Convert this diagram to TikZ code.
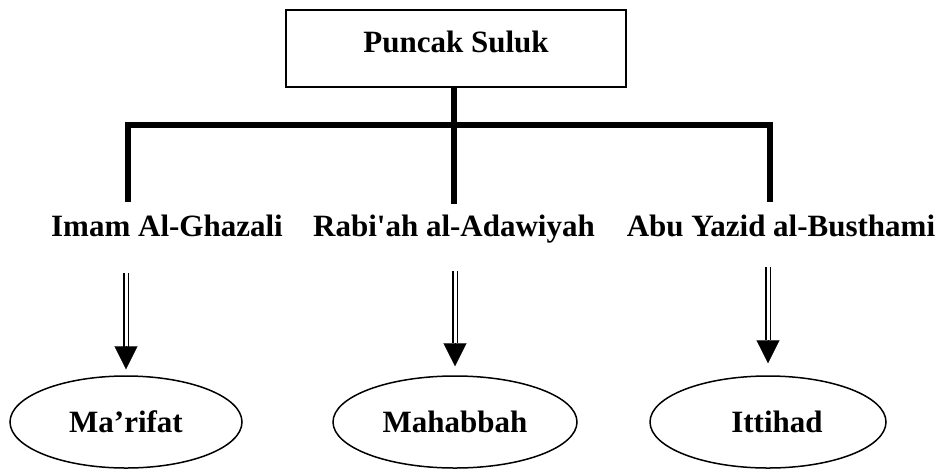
\documentclass[tikz,border=0pt]{standalone}
\usepackage{fontspec}
\setmainfont{Liberation Serif}[Ligatures=TeXOff]
\usetikzlibrary{shapes.geometric,arrows.meta}
\begin{document}
\begin{tikzpicture}[x=1pt,y=-1pt,
  txt/.style={font=\fontsize{31}{36}\selectfont\bfseries},
  lbl/.style={txt, inner sep=0pt, anchor=base},
  topbox/.style={draw, line width=1.6pt, minimum width=340pt, minimum height=77pt, inner sep=0pt},
  oval/.style={ellipse, draw, line width=1.5pt, inner sep=0pt, txt},
  heavy/.style={line width=6pt},
  shaft/.style={double, double distance=3pt, line width=1.6pt},
  head/.style={-{Triangle[length=23pt,width=23pt]}, line width=0.1pt}
]
\useasboundingbox (0,0) rectangle (941,469);
% top box
\node[topbox] (box) at (456,48.5) {};
\node[lbl] (boxtext) at (456,52) {Puncak Suluk};
% labels
\node[lbl] (l1) at (167,236) {Imam Al-Ghazali};
\node[lbl] (l2) at (454,236) {Rabi'ah al-Adawiyah};
\node[lbl] (l3) at (781,236) {Abu Yazid al-Busthami};
% ellipses
\node[oval, minimum width=232pt, minimum height=92pt] (e1) at (126,422) {Ma’rifat};
\node[oval, minimum width=244pt, minimum height=92pt] (e2) at (455,422) {Mahabbah};
\node[oval, minimum width=236pt, minimum height=92pt] (e3) at (768,422) {\hspace*{18pt}Ittihad};
% tree lines
\coordinate (bl) at (128,125);
\coordinate (br) at (770,125);
\coordinate (v1) at (128,202);
\coordinate (v2) at (454,204);
\coordinate (v3) at (770,202);
\draw[heavy] ([xshift=-3pt]bl) -- ([xshift=3pt]br);
\draw[heavy] (bl) -- (v1);
\draw[heavy] (br) -- (v3);
\draw[heavy] (454,0 |- box.south) -- (v2);
% arrows
\coordinate (t1) at (126,273); \coordinate (h1) at (126,347);
\coordinate (t2) at (455,271); \coordinate (h2) at (455,343);
\coordinate (t3) at (768,267); \coordinate (h3) at (768,340);
\draw[shaft] (t1) -- (h1);
\draw[shaft] (t2) -- (h2);
\draw[shaft] (t3) -- (h3);
\draw[head, shorten >=6pt] (h1) -- (e1.north);
\draw[head, shorten >=9pt] (h2) -- (e2.north);
\draw[head, shorten >=12pt] (h3) -- (e3.north);
\end{tikzpicture}
\end{document}
